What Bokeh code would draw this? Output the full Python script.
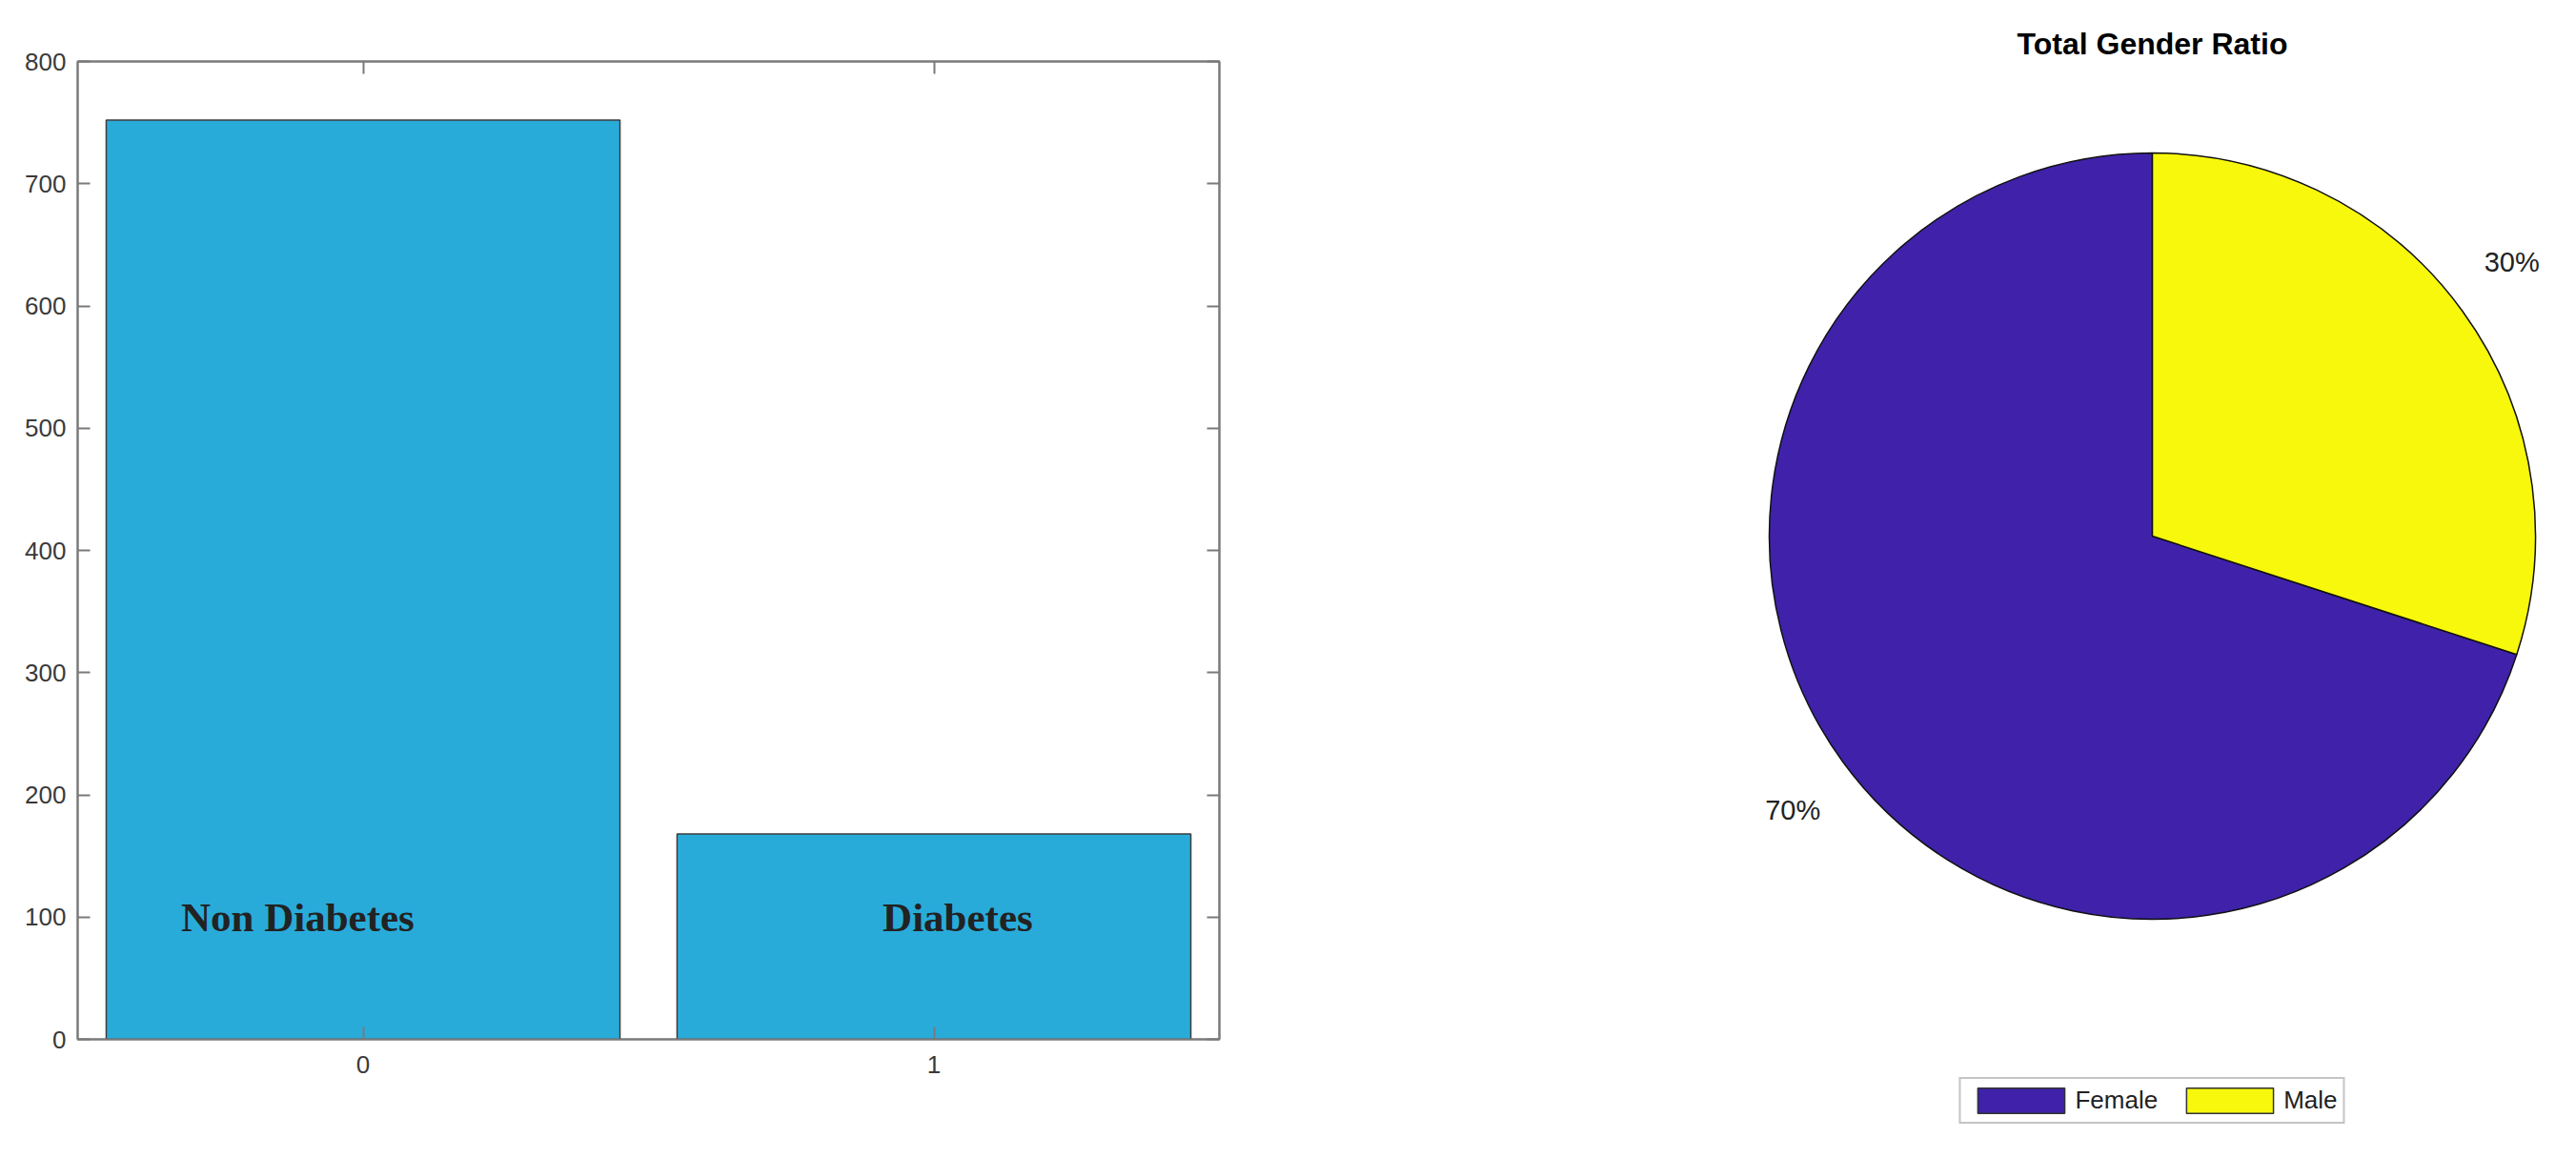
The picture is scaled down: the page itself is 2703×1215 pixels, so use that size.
import numpy as np
from bokeh.plotting import figure
from bokeh.layouts import row
from bokeh.models import (Range1d, FixedTicker, LinearAxis, Legend, LegendItem,
                          ColumnDataSource)
from bokeh.core.properties import value
from bokeh.embed import file_html
from bokeh.resources import INLINE

# ---------------- data ----------------
categories = ["0", "1"]
counts = [752, 168]
bar_labels = ["Non Diabetes", "Diabetes"]
bar_label_x = [-0.319, 0.91]
bar_label_y = [100, 100]
y_ticks = [0, 100, 200, 300, 400, 500, 600, 700, 800]

gender = ["Female", "Male"]
gender_pct = [70, 30]
pie_colors = ["#3F22A9", "#F8F80C"]

AX = "#7a7a7a"
TXT = "#3a3a3a"
SANS = "Liberation Sans"

# ---------------- bar chart ----------------
xs = list(range(len(categories)))
bar = figure(frame_width=1198, frame_height=1026, output_backend="svg",
             toolbar_location=None,
             x_range=Range1d(-0.5, 1.5), y_range=Range1d(0, 800),
             min_border_left=81, min_border_right=29, min_border_top=64,
             min_border_bottom=105)
bar.vbar(x=xs, top=counts, width=0.9, bottom=0, fill_color="#29ABDA",
         line_color="#3c3c3c", line_width=1.5)
bar.text(x=bar_label_x, y=bar_label_y, text=bar_labels,
         text_font=value("Liberation Serif"), text_font_style="bold",
         text_font_size="43px", text_color="#222222",
         text_align="left", text_baseline="middle")

bar.xgrid.visible = False
bar.ygrid.visible = False
bar.outline_line_color = AX
bar.outline_line_width = 2

def style_axis(ax, labels=True):
    ax.axis_line_color = AX
    ax.axis_line_width = 2
    ax.major_tick_line_color = AX
    ax.major_tick_line_width = 2
    ax.major_tick_in = 13
    ax.major_tick_out = 0
    ax.minor_tick_line_color = None
    ax.major_label_text_font = SANS
    if labels:
        ax.major_label_text_color = TXT
        ax.major_label_text_font_size = "26px"
    else:
        ax.major_label_text_color = None
        ax.major_label_text_font_size = "0px"
        ax.major_label_standoff = 0

bar.xaxis.ticker = FixedTicker(ticks=xs)
bar.xaxis.major_label_overrides = {i: c for i, c in zip(xs, categories)}
bar.yaxis.ticker = FixedTicker(ticks=y_ticks)
style_axis(bar.xaxis[0])
style_axis(bar.yaxis[0])
bar.xaxis.major_label_standoff = 17
bar.yaxis.major_label_standoff = 12

top_ax = LinearAxis(ticker=FixedTicker(ticks=xs))
style_axis(top_ax, labels=False)
bar.add_layout(top_ax, "above")
right_ax = LinearAxis(ticker=FixedTicker(ticks=y_ticks))
style_axis(right_ax, labels=False)
bar.add_layout(right_ax, "right")

# ---------------- pie chart ----------------
frac = np.array(gender_pct, dtype=float) / sum(gender_pct)
cum = np.concatenate([[0.0], np.cumsum(frac)])
start = np.pi / 2 + 2 * np.pi * cum[:-1]
end = np.pi / 2 + 2 * np.pi * cum[1:]
mid = (start + end) / 2

FT = 64          # frame top inside the figure (aligned with the bar chart)
FH = 1131        # frame height
FW = 874         # frame width
PX = 402.0       # pixels per unit radius
CY = 498         # pie centre below the frame top
pie = figure(frame_width=FW, frame_height=FH, output_backend="svg",
             toolbar_location=None,
             x_range=Range1d(-FW / 2 / PX, FW / 2 / PX),
             y_range=Range1d(-(FH - CY) / PX, CY / PX),
             min_border_left=513, min_border_right=0, min_border_top=FT,
             min_border_bottom=0)
pie.title.text = "Total Gender Ratio"
pie.title.align = "center"
pie.title.text_font = SANS
pie.title.text_font_size = "32px"
pie.title.text_font_style = "bold"
pie.title.text_color = "#000000"
pie.title.standoff = 1

src = ColumnDataSource(dict(start=start, end=end, color=pie_colors, label=gender))
pie.wedge(x=0, y=0, radius=1, start_angle="start", end_angle="end",
          fill_color="color", line_color="#111111", line_width=1.5, source=src)

pct_text = [f"{p}%" for p in gender_pct]
pie.text(x=list(1.16 * np.cos(mid)), y=list(1.215 * np.sin(mid)), text=pct_text,
         text_font=value(SANS), text_font_size="29px", text_color="#222222",
         text_align="center", text_baseline="middle")

items = []
for g, c in zip(gender, pie_colors):
    r = pie.quad(left=[np.nan], right=[np.nan], top=[np.nan], bottom=[np.nan],
                 fill_color=c, line_color="#333333", line_width=1.5)
    items.append(LegendItem(label=g, renderers=[r]))
leg = Legend(items=items, orientation="horizontal", location="bottom_center",
             glyph_width=114, glyph_height=33, label_height=33,
             label_text_font=SANS, label_text_font_size="26px",
             label_text_color="#222222", label_standoff=0, spacing=18,
             padding=6, margin=16, border_line_color="#8a8a8a",
             border_line_width=2, background_fill_alpha=1)
pie.add_layout(leg, "center")

pie.xaxis.visible = False
pie.yaxis.visible = False
pie.xgrid.visible = False
pie.ygrid.visible = False
pie.outline_line_color = None

layout = row(bar, pie)
open("out.html", "w").write(file_html(layout, INLINE))
